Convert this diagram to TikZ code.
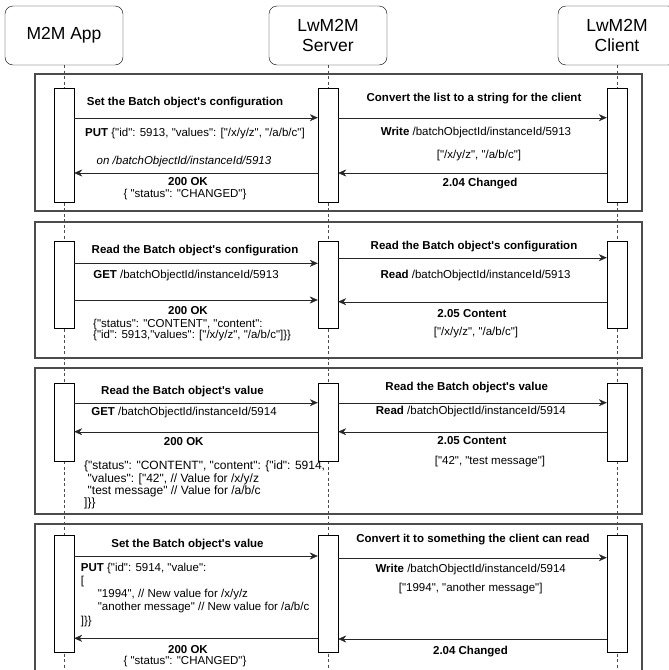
\documentclass[tikz,border=0pt]{standalone}
\usepackage{fontspec}
\setmainfont{Liberation Sans}[Ligatures=TeXOff]
\usetikzlibrary{arrows.meta}
\begin{document}
\begin{tikzpicture}[x=1pt,y=1pt,
  head/.style={draw,rounded corners=8pt,minimum width=118pt,minimum height=59pt,align=center,font=\fontsize{17.5}{19.5}\selectfont},
  bar/.style={draw,fill=white,minimum width=20pt,inner sep=0pt},
  life/.style={dashed,dash pattern=on 3pt off 2.5pt,black!70},
  frame/.style={draw=black!70,line width=1.1pt},
  msg/.style={-{Stealth[length=8pt,width=7pt]},black!85},
  lbl/.style={inner sep=0pt,font=\fontsize{11.5}{13}\selectfont},
  tit/.style={inner sep=0pt,font=\fontsize{11.5}{13}\selectfont\bfseries}]
\clip (0,0) rectangle (669,-670);
\node[head] (app) at (64,-35.5) {M2M App};
\node[head] (srv) at (328,-35.5) {LwM2M\\Server};
\node[head] (cli) at (617,-35.5) {LwM2M\\Client};
\foreach \n in {app,srv,cli} \draw[life] (\n.south) -- ++(0,-620);
\draw[frame] (35,-74) rectangle (642,-211);
\draw[frame] (35,-222) rectangle (642,-358);
\draw[frame] (35,-368) rectangle (642,-514);
\draw[frame] (35,-524) rectangle (642,-690);
\foreach \i/\y/\h in {1/145/114,2/285/87,3/422/78.5,4/593.7/116.5}{
  \node[bar,minimum height=\h] (a\i) at (64,-\y) {};
  \node[bar,minimum height=\h] (s\i) at (328,-\y) {};
  \node[bar,minimum height=\h] (c\i) at (617,-\y) {};
}
% set the configuration
\draw[msg] (a1.east |- 0,-117.7) -- (s1.west |- 0,-117.7);
\draw[msg] (s1.east |- 0,-117.7) -- (c1.west |- 0,-117.7);
\draw[msg] (c1.west |- 0,-173) -- (s1.east |- 0,-173);
\draw[msg] (s1.west |- 0,-173) -- (a1.east |- 0,-173);
\node[tit] (t1a) at (185,-103) {Set the Batch object's configuration};
\node[lbl,anchor=west] (p1) at (85,-134) {\textbf{PUT} \{"id": 5913, "values": ["/x/y/z", "/a/b/c"]};
\node[lbl,font=\fontsize{11.5}{13}\selectfont\itshape] (o1) at (184,-161.7) {on /batchObjectId/instanceId/5913};
\node[tit] (ok1) at (188,-182) {200 OK};
\node[lbl] (r1) at (185,-194.5) {\{ "status": "CHANGED"\}};
\node[tit] (t1b) at (474,-99) {Convert the list to a string for the client};
\node[lbl] (w1) at (476,-132.7) {\textbf{Write} /batchObjectId/instanceId/5913};
\node[lbl] (v1) at (479,-155.7) {["/x/y/z", "/a/b/c"]};
\node[tit] (ch1) at (480,-183.7) {2.04 Changed};
% read the configuration
\draw[msg] (a2.east |- 0,-263.3) -- (s2.west |- 0,-263.3);
\draw[msg] (s2.east |- 0,-257.7) -- (c2.west |- 0,-257.7);
\draw[msg] (a2.east |- 0,-300) -- (s2.west |- 0,-300);
\draw[msg] (c2.west |- 0,-301.7) -- (s2.east |- 0,-301.7);
\node[tit] (t2a) at (195,-251) {Read the Batch object's configuration};
\node[lbl] (g2) at (186,-276) {\textbf{GET} /batchObjectId/instanceId/5913};
\node[tit] (ok2) at (188,-310.7) {200 OK};
\node[lbl,align=left,anchor=west,font=\fontsize{11.5}{11}\selectfont] (j2) at (93,-329.7)
  {\{"status": "CONTENT", "content":\\\{"id": 5913,"values": ["/x/y/z", "/a/b/c"]\}\}};
\node[tit] (t2b) at (474,-246.7) {Read the Batch object's configuration};
\node[lbl] (rd2) at (475.5,-276) {\textbf{Read} /batchObjectId/instanceId/5913};
\node[tit] (ct2) at (472,-314) {2.05 Content};
\node[lbl] (v2) at (476,-333) {["/x/y/z", "/a/b/c"]};
% read the value
\draw[msg] (a3.east |- 0,-402.7) -- (s3.west |- 0,-402.7);
\draw[msg] (s3.east |- 0,-402.7) -- (c3.west |- 0,-402.7);
\draw[msg] (c3.west |- 0,-431.7) -- (s3.east |- 0,-431.7);
\draw[msg] (s3.west |- 0,-431.7) -- (a3.east |- 0,-431.7);
\node[tit] (t3a) at (182.5,-391.7) {Read the Batch object's value};
\node[lbl] (g3) at (184,-412.7) {\textbf{GET} /batchObjectId/instanceId/5914};
\node[tit] (ok3) at (183.7,-441.7) {200 OK};
\node[lbl,align=left,anchor=west,font=\fontsize{12}{10.8}\selectfont] (j3) at (84,-485)
  {\{"status": "CONTENT", "content": \{"id": 5914,\\\hspace*{3.5pt}"values": ["42", // Value for /x/y/z\\\hspace*{3.5pt}"test message" // Value for /a/b/c\\]\}\}};
\node[tit] (t3b) at (466.7,-388) {Read the Batch object's value};
\node[lbl] (rd3) at (470.8,-411.7) {\textbf{Read} /batchObjectId/instanceId/5914};
\node[tit] (ct3) at (472,-441) {2.05 Content};
\node[lbl] (v3) at (490,-461.7) {["42", "test message"]};
% set the value
\draw[msg] (a4.east |- 0,-556) -- (s4.west |- 0,-556);
\draw[msg] (s4.east |- 0,-557.7) -- (c4.west |- 0,-557.7);
\draw[msg] (c4.west |- 0,-639) -- (s4.east |- 0,-639);
\draw[msg] (s4.west |- 0,-638.3) -- (a4.east |- 0,-638.3);
\node[tit] (t4a) at (187.5,-545) {Set the Batch object's value};
\node[lbl,align=left,anchor=west,font=\fontsize{11.5}{13.2}\selectfont] (j4) at (80.7,-594.7)
  {\textbf{PUT} \{"id": 5914, "value":\\{[}\\\hspace*{17pt}"1994", // New value for /x/y/z\\\hspace*{17pt}"another message" // New value for /a/b/c\\]\}\}};
\node[tit] (ok4) at (188,-649.5) {200 OK};
\node[lbl] (r4) at (185,-662) {\{ "status": "CHANGED"\}};
\node[tit] (t4b) at (473,-540) {Convert it to something the client can read};
\node[lbl] (w4) at (470.7,-570) {\textbf{Write} /batchObjectId/instanceId/5914};
\node[lbl] (v4) at (470.7,-589) {["1994", "another message"]};
\node[tit] (ch4) at (470.5,-651.7) {2.04 Changed};
\end{tikzpicture}
\end{document}
